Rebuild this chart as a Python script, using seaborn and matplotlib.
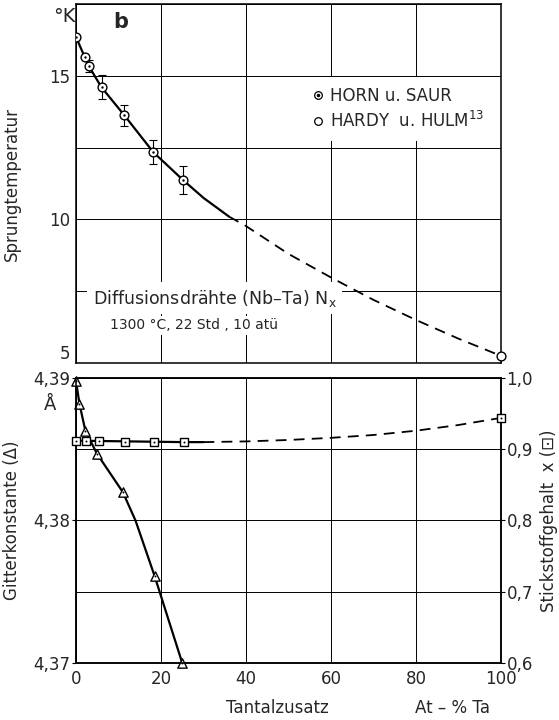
import matplotlib
matplotlib.use("Agg")
import matplotlib.pyplot as plt
import seaborn as sns
from matplotlib.lines import Line2D
from matplotlib.ticker import FuncFormatter, MultipleLocator
from matplotlib.legend_handler import HandlerTuple

sns.set_style("white")
plt.rcParams["font.family"] = ["DejaVu Sans"]
plt.rcParams["font.size"] = 12

# Sprungtemperatur (top panel)
horn_x = [0, 2, 3, 6, 11.4, 18.2, 25.2]
horn_tc = [16.35, 15.67, 15.34, 14.6, 13.62, 12.34, 11.37]
horn_err = [0, 0, 0.2, 0.42, 0.35, 0.42, 0.5]
hardy_x = [100]
hardy_tc = [5.25]
tc_solid_x = [0, 2, 3, 6, 11.4, 18.2, 25.2, 30, 36]
tc_solid_y = [16.35, 15.67, 15.34, 14.6, 13.62, 12.34, 11.37, 10.75, 10.1]
tc_dash_x = [36, 40, 50, 60, 70, 80, 90, 100]
tc_dash_y = [10.1, 9.77, 8.8, 7.98, 7.2, 6.5, 5.85, 5.25]

# Gitterkonstante (triangles) and Stickstoffgehalt (squares), bottom panel
tri_x = [0, 0.8, 2.2, 4.9, 11, 18.5, 25]
tri_a = [4.3898, 4.3882, 4.3863, 4.3847, 4.382, 4.3761, 4.370]
a_curve_x = [0, 0.8, 2.2, 4.9, 11, 14, 18.5, 25]
a_curve_y = [4.3898, 4.3882, 4.3863, 4.3847, 4.382, 4.380, 4.3761, 4.370]
sq_x = [0, 2.4, 5.3, 11.5, 18.4, 25.3, 100]
sq_n = [0.912, 0.912, 0.912, 0.910, 0.910, 0.910, 0.944]
n_solid_x = [0, 25.3, 30]
n_solid_y = [0.912, 0.910, 0.910]
n_dash_x = [30, 40, 50, 60, 70, 80, 90, 100]
n_dash_y = [0.910, 0.911, 0.913, 0.916, 0.920, 0.926, 0.934, 0.944]

x_ticks = [0, 20, 40, 60, 80, 100]

comma2 = FuncFormatter(lambda v, p: ("%.2f" % v).replace(".", ","))
comma1 = FuncFormatter(lambda v, p: ("%.1f" % v).replace(".", ","))

fig = plt.figure(figsize=(5.59, 7.2), dpi=100)
ax1 = fig.add_axes([0.136, 0.4958, 0.760, 0.4986])
ax2 = fig.add_axes([0.136, 0.0792, 0.760, 0.3958])

for ax in (ax1, ax2):
    ax.set_xlim(0, 100)
    ax.set_xticks(x_ticks)
    ax.grid(True, which="both", color="k", lw=0.7)
    ax.set_axisbelow(True)
    for s in ax.spines.values():
        s.set_color("k")
        s.set_linewidth(1.1)
    ax.tick_params(length=3, width=0.8, color="k", labelsize=12, pad=1)

# top panel
ax1.set_ylim(5, 17.5)
ax1.set_yticks([5, 10, 15])
ax1.yaxis.set_minor_locator(MultipleLocator(2.5))
ax1.tick_params(axis="y", which="minor", length=0)
ax1.tick_params(axis="x", labelbottom=False, direction="in")

sns.lineplot(x=tc_solid_x, y=tc_solid_y, ax=ax1, color="k", lw=1.6,
             sort=False, estimator=None)
sns.lineplot(x=tc_dash_x, y=tc_dash_y, ax=ax1, color="k", lw=1.3,
             sort=False, estimator=None, linestyle=(0, (6, 4)))
ax1.errorbar(horn_x, horn_tc, yerr=horn_err, fmt="none", ecolor="k",
             elinewidth=0.8, capsize=3, capthick=0.8, zorder=3)
sns.scatterplot(x=horn_x, y=horn_tc, ax=ax1, marker="o", s=40,
                facecolor="white", edgecolor="k", linewidth=1, zorder=4)
sns.scatterplot(x=horn_x, y=horn_tc, ax=ax1, marker="o", s=3,
                color="k", linewidth=0, zorder=5)
sns.scatterplot(x=hardy_x, y=hardy_tc, ax=ax1, marker="o", s=40,
                facecolor="white", edgecolor="k", linewidth=1, zorder=4,
                clip_on=False)
ax1.set_ylabel("Sprungtemperatur")
ax1.yaxis.set_label_coords(-0.13, 0.5)
ax1.get_yticklabels()[0].set_va("bottom")

fig.text(0.115, 0.977, "°K", fontsize=14, ha="center", va="center")
ax1.text(0.105, 0.95, "b", transform=ax1.transAxes, fontsize=15,
         fontweight="bold", ha="center", va="center")

ax1.text(0.04, 0.18, "Diffusionsdrähte (Nb–Ta) N$_\\mathregular{x}$",
         transform=ax1.transAxes, fontsize=12.5, ha="left", va="center",
         zorder=1, bbox=dict(facecolor="white", edgecolor="none", pad=4))
ax1.text(0.08, 0.105, "1300 °C, 22 Std , 10 atü", transform=ax1.transAxes,
         fontsize=10, ha="left", va="center", zorder=1,
         bbox=dict(facecolor="white", edgecolor="none", pad=2))

h_horn = (Line2D([], [], marker="o", ls="none", ms=5.5, mfc="white",
                 mec="k", mew=0.9),
          Line2D([], [], marker="o", ls="none", ms=1.5, color="k"))
h_hardy = Line2D([], [], marker="o", ls="none", ms=5.5, mfc="white",
                 mec="k", mew=0.9)
leg = ax1.legend([h_horn, h_hardy], ["HORN u. SAUR", "HARDY  u. HULM$^{13}$"],
                 handler_map={tuple: HandlerTuple(ndivide=1, pad=0)},
                 loc="upper left", bbox_to_anchor=(0.515, 0.82),
                 frameon=True, fancybox=False, facecolor="white",
                 edgecolor="none", framealpha=1, handlelength=0.6,
                 handletextpad=0.4, borderpad=0.6, labelspacing=0.35,
                 fontsize=12)

# bottom panel
ax2.set_ylim(4.37, 4.39)
ax2.set_yticks([4.37, 4.38, 4.39])
ax2.yaxis.set_minor_locator(MultipleLocator(0.005))
ax2.tick_params(axis="y", which="minor", length=0)
ax2.yaxis.set_major_formatter(comma2)
ax2.tick_params(axis="x", pad=2)

sns.lineplot(x=a_curve_x, y=a_curve_y, ax=ax2, color="k", lw=1.6,
             sort=False, estimator=None)
sns.scatterplot(x=tri_x, y=tri_a, ax=ax2, marker="^", s=45,
                facecolor="white", edgecolor="k", linewidth=1, zorder=4,
                clip_on=False)
sns.scatterplot(x=tri_x, y=tri_a, ax=ax2, marker="o", s=2,
                color="k", linewidth=0, zorder=5, clip_on=False)
ax2.set_ylabel("Gitterkonstante (Δ)")
ax2.yaxis.set_label_coords(-0.13, 0.5)
fig.text(0.09, 0.437, "Å", fontsize=13, ha="center", va="center")

ax3 = ax2.twinx()
ax3.set_ylim(0.6, 1.0)
ax3.set_yticks([0.6, 0.7, 0.8, 0.9, 1.0])
ax3.yaxis.set_major_formatter(comma1)
ax3.tick_params(length=3, width=0.8, color="k", labelsize=12, pad=1)
sns.lineplot(x=n_solid_x, y=n_solid_y, ax=ax3, color="k", lw=1.6,
             sort=False, estimator=None)
sns.lineplot(x=n_dash_x, y=n_dash_y, ax=ax3, color="k", lw=1.3,
             sort=False, estimator=None, linestyle=(0, (6, 4)))
sns.scatterplot(x=sq_x, y=sq_n, ax=ax3, marker="s", s=30,
                facecolor="white", edgecolor="k", linewidth=1, zorder=4,
                clip_on=False)
sns.scatterplot(x=sq_x, y=sq_n, ax=ax3, marker="o", s=2,
                color="k", linewidth=0, zorder=5, clip_on=False)
ax3.set_ylabel("Stickstoffgehalt  x (⊡)")
ax3.yaxis.set_label_coords(1.092, 0.5)
for s in ax3.spines.values():
    s.set_color("k")
    s.set_linewidth(1.1)

fig.text(0.496, 0.017, "Tantalzusatz", fontsize=12, ha="center", va="center")
fig.text(0.81, 0.017, "At – % Ta", fontsize=12, ha="center", va="center")

fig.savefig("out.png", dpi=100)
